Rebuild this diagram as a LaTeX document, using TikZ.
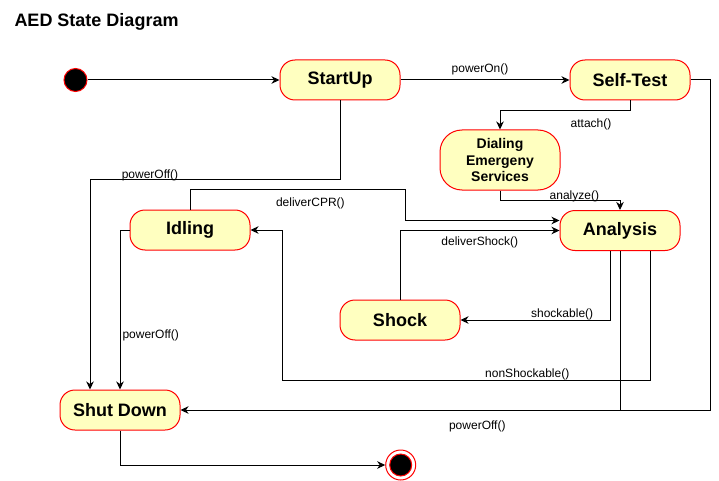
\documentclass[tikz,border=0pt]{standalone}
\usepackage{fontspec}
\setmainfont{Liberation Sans}
\usepackage{xcolor}
\usetikzlibrary{calc,shapes,positioning}
\usetikzlibrary{arrows.meta}

\definecolor{statefill}{HTML}{FFFFC0}

\begin{document}
\begin{tikzpicture}[x=1pt, y=-1pt, line width=1pt,
    >={Stealth[length=8pt, width=7.5pt, inset=2.5pt]}]
      \useasboundingbox (0,0) rectangle (719,481);

      \tikzstyle{snode} = [draw=red, fill=statefill, rounded corners=15pt, minimum width=120pt, minimum height=40pt, inner sep=0pt, font=\fontsize{18}{21}\selectfont\bfseries]
      \tikzstyle{lnode} = [inner sep=1pt, font=\fontsize{12}{14}\selectfont]
      \tikzstyle{dotnode} = [circle, fill=black, draw=red, inner sep=0pt]

      \node[anchor=west, inner sep=0pt, font=\fontsize{18}{21}\selectfont\bfseries] (title) at (14,21.5) {AED State Diagram};

      \node[dotnode, minimum size=23pt] (init) at (75.5,80) {};
      \node[circle, draw=red, fill=white, minimum size=30pt, inner sep=0pt] (final) at (400.7,465) {};
      \node[dotnode, minimum size=22pt] (finaldot) at (final) {};

      \node[snode] (startup) at (340,80) {StartUp};
      \node[snode] (selftest) at (630,80) {Self-Test};
      \node[snode, minimum height=60pt, rounded corners=22pt, align=center, font=\fontsize{14}{16.7}\selectfont\bfseries] (dial) at (500,160) {Dialing\\Emergeny\\Services};
      \node[snode] (analysis) at (620,230.5) {Analysis};
      \node[snode] (idling) at (190,230) {Idling};
      \node[snode] (shock) at (400,320) {Shock};
      \node[snode] (shutdown) at (120,410) {Shut Down};
      % connections

      \draw[->] (init) to (startup);
      \draw[->] (startup) to node[lnode, above=4pt, xshift=-5pt] {powerOn()} (selftest);
      \draw[->] (selftest.south) -- ++(0,10) -| node[lnode, pos=0.15, below=6.5pt] {attach()} (dial.north);
      \draw[->] (dial.south) -- ++(0,10) -| node[lnode, pos=0.31, above=-2.5pt] {analyze()} (analysis.north);
      \draw[->] (selftest.east) -- ++(20,0) |- node[lnode, pos=0.72, below=9pt] {powerOff()} (shutdown.east);
      \draw (analysis.south) -- (analysis.south |- shutdown.east);
      \draw[->] ([xshift=-10pt]analysis.south) |- node[lnode, pos=0.66, above=-1pt] {shockable()} (shock.east);
      \draw[->] ([xshift=30pt]analysis.south) |- node[lnode, pos=0.667, above=-1pt] {nonShockable()} ($(idling.east)+(32,150)$) |- (idling.east);
      \draw[->] (shock.north) |- node[lnode, pos=0.75, below=5pt] {deliverShock()} (analysis.west);
      \draw[->] (idling.north) |- node[lnode, pos=0.78, below=6.5pt] {deliverCPR()} ($(idling.north)+(215,-20)$) |- ([yshift=10pt]analysis.west);
      \draw[->] (startup.south) |- node[lnode, pos=0.88, above=-2.5pt] {powerOff()} ($(shutdown.north)+(-30,-210)$) -- ([xshift=-30pt]shutdown.north);
      \draw[->] (idling.west) -| node[lnode, pos=0.83, right=1pt] {powerOff()} (shutdown.north);
      \draw[->] (shutdown.south) |- (final.west);
    \end{tikzpicture}
\end{document}
